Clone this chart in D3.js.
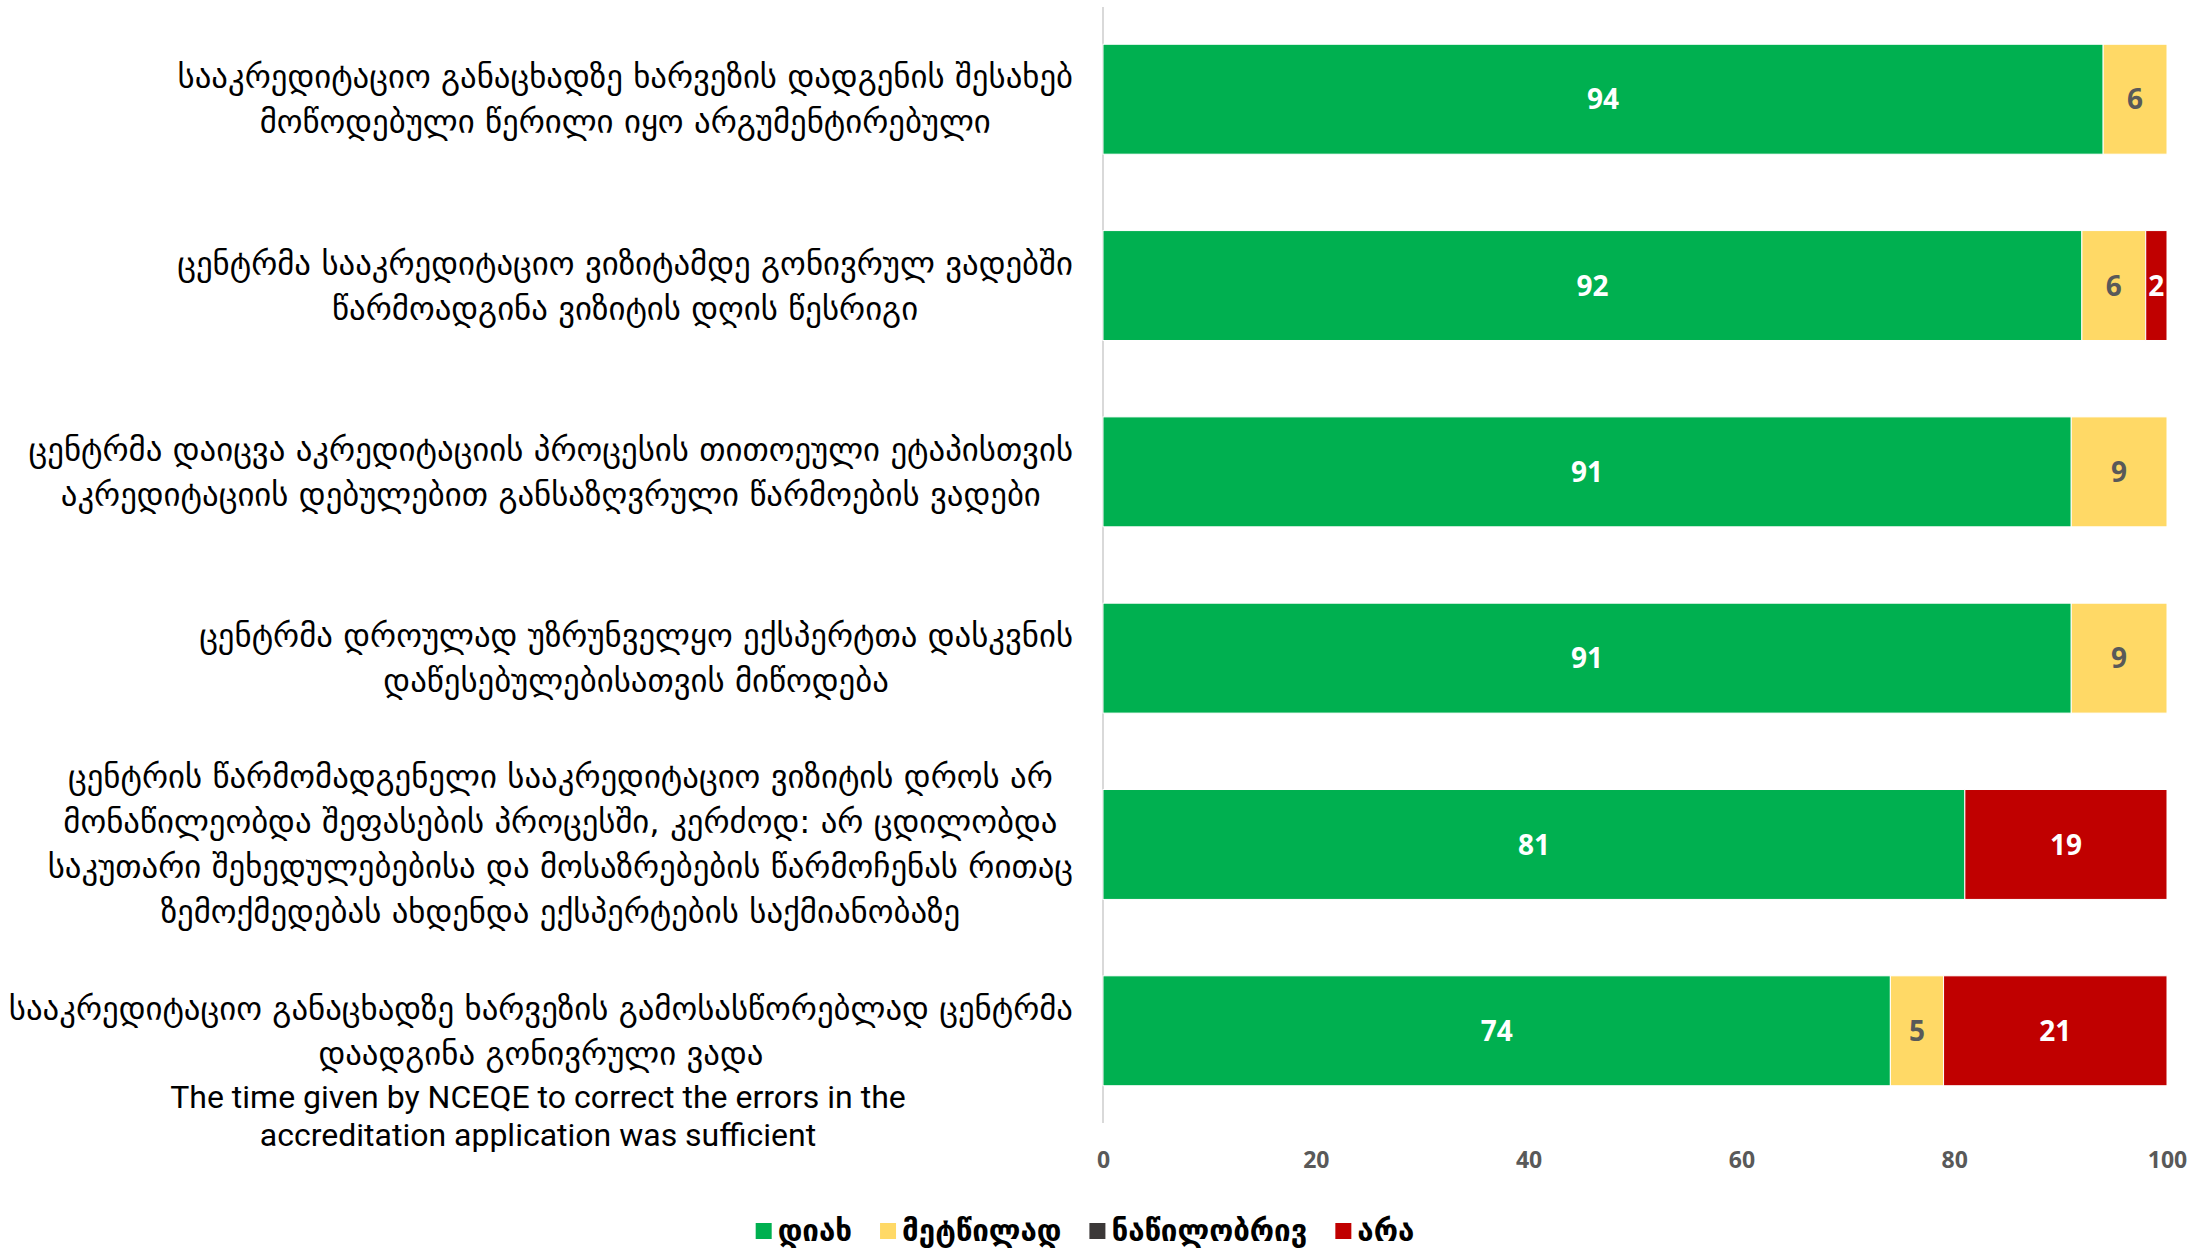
<!DOCTYPE html>
<html>
<head>
<meta charset="utf-8">
<script src="https://cdn.jsdelivr.net/npm/d3@7"></script>
<style>
  html, body { margin: 0; padding: 0; background: #fff; }
  svg { display: block; }
</style>
</head>
<body>
<svg id="chart" width="2195" height="1250"></svg>
<script>
// ---- data ----
const categories = [
  ["სააკრედიტაციო განაცხადზე ხარვეზის დადგენის შესახებ", "მოწოდებული წერილი იყო არგუმენტირებული"],
  ["ცენტრმა სააკრედიტაციო ვიზიტამდე გონივრულ ვადებში", "წარმოადგინა ვიზიტის დღის წესრიგი"],
  ["ცენტრმა დაიცვა აკრედიტაციის პროცესის თითოეული ეტაპისთვის", "აკრედიტაციის დებულებით განსაზღვრული წარმოების ვადები"],
  ["ცენტრმა დროულად უზრუნველყო ექსპერტთა დასკვნის", "დაწესებულებისათვის მიწოდება"],
  ["ცენტრის წარმომადგენელი სააკრედიტაციო ვიზიტის დროს არ", "მონაწილეობდა შეფასების პროცესში, კერძოდ: არ ცდილობდა", "საკუთარი შეხედულებებისა და მოსაზრებების წარმოჩენას რითაც", "ზემოქმედებას ახდენდა ექსპერტების საქმიანობაზე"],
  ["სააკრედიტაციო განაცხადზე ხარვეზის გამოსასწორებლად ცენტრმა", "დაადგინა გონივრული ვადა"]
];
const englishNote = ["The time given by NCEQE to correct the errors in the", "accreditation application was sufficient"];
const seriesNames = ["დიახ", "მეტწილად", "ნაწილობრივ", "არა"];
const yes       = [94, 92, 91, 91, 81, 74];
const mostly    = [6, 6, 9, 9, 0, 5];
const partially = [0, 0, 0, 0, 0, 0];
const no        = [0, 2, 0, 0, 19, 21];
const xTicks = [0, 20, 40, 60, 80, 100];

const colors = ["#00B050", "#FFD966", "#3B3838", "#C00000"];
const labelColors = ["#FFFFFF", "#595959", "#FFFFFF", "#FFFFFF"];

// ---- build table ----
const rows = categories.map((c, i) => ({
  idx: i,
  s0: yes[i], s1: mostly[i], s2: partially[i], s3: no[i]
}));
const keys = ["s0", "s1", "s2", "s3"];
const stacked = d3.stack().keys(keys)(rows);

const svg = d3.select("#chart");

const x = d3.scaleLinear().domain([0, 100]).range([1103, 2167]);
const y = d3.scaleBand().domain(d3.range(categories.length)).range([7, 1123])
  .paddingInner(0.41).paddingOuter(0.2);

// axis line (vertical category axis)
svg.append("line")
  .attr("x1", x(0)).attr("x2", x(0))
  .attr("y1", 7).attr("y2", 1123)
  .attr("stroke", "#D9D9D9").attr("stroke-width", 2);

// bars
const groups = svg.selectAll("g.series").data(stacked).join("g")
  .attr("class", "series")
  .attr("fill", (d, i) => colors[i]);

groups.selectAll("rect").data(d => d).join("rect")
  .attr("x", d => x(d[0]))
  .attr("width", d => x(d[1]) - x(d[0]))
  .attr("y", d => y(d.data.idx))
  .attr("height", y.bandwidth())
  .attr("stroke", "#ffffff").attr("stroke-width", 1);

// data labels
stacked.forEach((s, si) => {
  svg.append("g").selectAll("text").data(s.filter(d => d[1] - d[0] > 0)).join("text")
    .attr("x", d => (x(d[0]) + x(d[1])) / 2)
    .attr("y", d => y(d.data.idx) + y.bandwidth() / 2)
    .attr("dy", "0.36em")
    .attr("text-anchor", "middle")
    .attr("font-family", "'Open Sans', 'Liberation Sans', sans-serif")
    .attr("font-weight", 700)
    .attr("font-size", 28)
    .attr("fill", labelColors[si])
    .text(d => d[1] - d[0]);
});

// x axis tick labels
const xAxis = d3.axisBottom(x).tickValues(xTicks).tickSize(0).tickPadding(0);
const gx = svg.append("g").attr("transform", "translate(0,1152)").call(xAxis);
gx.select(".domain").remove();
gx.selectAll("text")
  .attr("font-family", "'Open Sans', 'Liberation Sans', sans-serif")
  .attr("font-weight", 700)
  .attr("font-size", 23)
  .attr("fill", "#595959");

// category labels (block right-aligned, lines centered)
const labelRight = 1073;
const geoFont = "'DejaVu Sans', sans-serif";
// find a font size making the first line match the reference width
const probe = svg.append("text").attr("font-family", geoFont).attr("font-size", 30).text(categories[0][0]);
const probeW = probe.node().getComputedTextLength();
probe.remove();
const geoSize = Math.min(36, 30 * 896 / probeW);
const lineH = 45;
categories.forEach((lines, i) => {
  const cy = y(i) + y.bandwidth() / 2;
  const g = svg.append("g");
  const texts = lines.map((ln, k) => g.append("text")
    .attr("font-family", geoFont)
    .attr("font-size", geoSize)
    .attr("fill", "#000")
    .attr("text-anchor", "middle")
    .attr("y", cy + (k - (lines.length - 1) / 2) * lineH)
    .attr("dy", "0.35em")
    .text(ln));
  const maxW = d3.max(texts, t => t.node().getComputedTextLength());
  texts.forEach(t => t.attr("x", labelRight - maxW / 2));
});

// English note under last label
englishNote.forEach((ln, k) => {
  svg.append("text")
    .attr("x", 538)
    .attr("y", 1097 + k * 38)
    .attr("dy", "0.35em")
    .attr("text-anchor", "middle")
    .attr("font-family", "Roboto, 'Open Sans', sans-serif")
    .attr("font-size", 32)
    .attr("fill", "#000")
    .text(ln);
});

// legend
const legendY = 1231;
const lg = svg.append("g");
let lx = 0;
seriesNames.forEach((name, i) => {
  const g = lg.append("g");
  g.append("rect").attr("x", 0).attr("y", -8).attr("width", 16).attr("height", 16).attr("fill", colors[i]);
  const t = g.append("text").attr("x", 22).attr("dy", "0.35em")
    .attr("font-family", geoFont).attr("font-size", geoSize * 0.9).attr("font-weight", 700)
    .attr("fill", "#000").text(name);
  const w = 22 + t.node().getComputedTextLength();
  g.attr("transform", `translate(${lx},0)`);
  lx += w + 28;
});
const totalW = lx - 28;
lg.attr("transform", `translate(${1085 - totalW / 2},${legendY})`);
</script>
</body>
</html>
